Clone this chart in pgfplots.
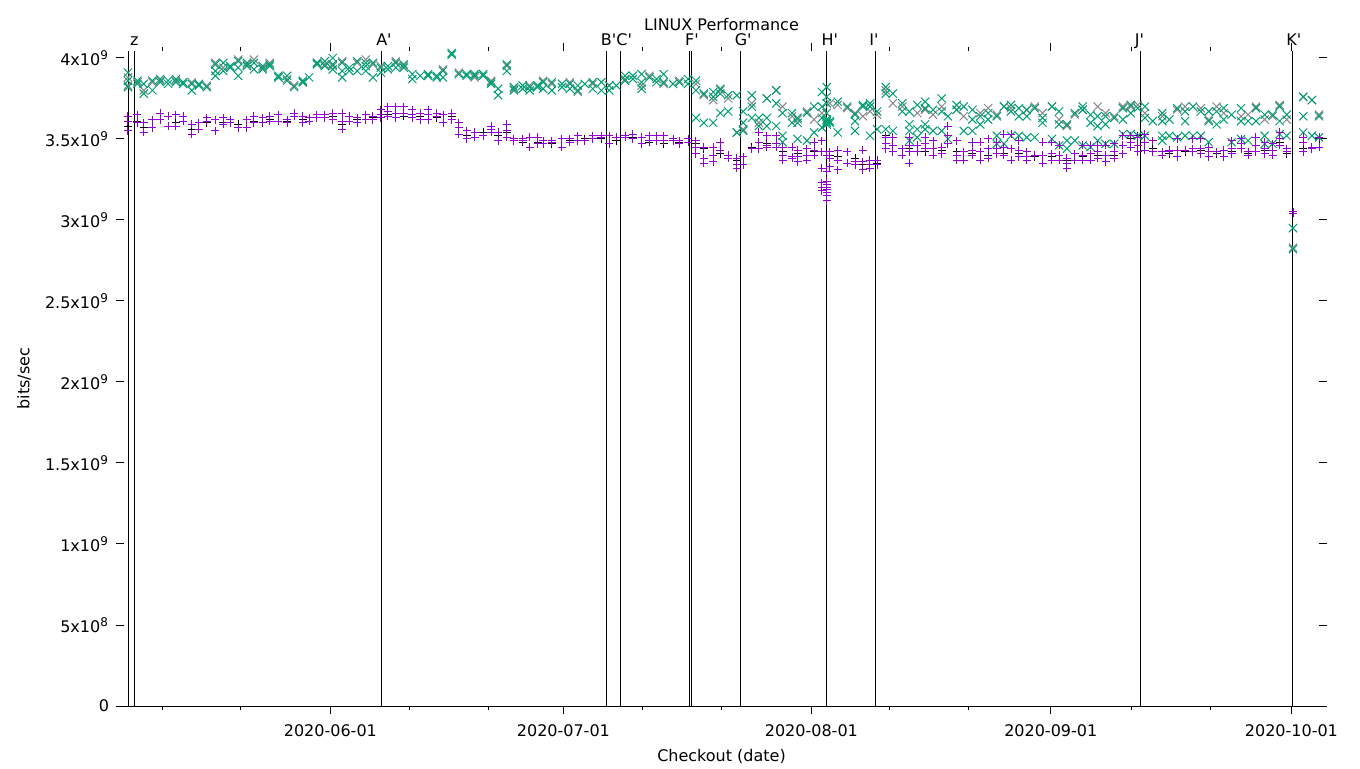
\documentclass[border=0pt]{standalone}
\usepackage{fontspec}
\setmainfont{DejaVu Sans}
\usepackage{pgfplots}
\pgfplotsset{compat=1.18}
\definecolor{gpviolet}{HTML}{9400D3}
\definecolor{gpgreen}{HTML}{009E73}
\definecolor{gpgray}{HTML}{888888}
\newcommand{\lbl}{\fontsize{8}{9.6}\selectfont}
\newcommand{\p}{\textquotesingle}

\begin{document}
\begin{tikzpicture}
\begin{axis}[
    name=ax, scale only axis,
    width=597.5pt, height=327.5pt,
    xmin=-26.2, xmax=125.5, ymin=0, ymax=4.043,
    clip=false,
    axis line style={draw=none},
    tick align=outside, major tick length=4pt, minor tick length=2pt,
    every tick/.style={black, line width=0.5pt},
    xtick={0,29.58,61.06,91.45,122},
    xticklabels={2020-06-01,2020-07-01,2020-08-01,2020-09-01,2020-10-01},
    minor xtick={-21.25,-11.35,9.98,20.06,39.56,49.71,70.98,80.99,101.64,111.67},
    ytick={0,0.5,1,1.5,2,2.5,3,3.5,4},
    yticklabels={0,5x10\textsuperscript{8},1x10\textsuperscript{9},1.5x10\textsuperscript{9},2x10\textsuperscript{9},2.5x10\textsuperscript{9},3x10\textsuperscript{9},3.5x10\textsuperscript{9},4x10\textsuperscript{9}},
    tick label style={font=\lbl},
    xticklabel style={anchor=base, yshift=-11pt},
    yticklabel style={anchor=east},
    title={LINUX Performance},
    title style={font=\lbl, at={(axis description cs:0.5,1)}, anchor=base, yshift=4pt},
    xlabel={Checkout (date)},
    xlabel style={font=\lbl, at={(axis description cs:0.5,0)}, anchor=base, yshift=-27.5pt},
    ylabel={bits/sec},
    ylabel style={font=\lbl, at={(axis description cs:-0.0837,0.5)}, anchor=center},
]
\draw[line width=0.5pt] (rel axis cs:0,0) -- (rel axis cs:1,0);

% gray x series
\addplot[only marks, mark=x, mark size=2.9pt, color=gpgray, mark options={line width=0.5pt}] coordinates {
(-25.7,3.88) (-25.7,3.83) (-24.5,3.85) (-23.7,3.80) (-22.6,3.85) (-21.6,3.86) (-19.6,3.86) (-17.6,3.85) (-15.7,3.83)
(-14.6,3.97) (-13.6,3.94) (-11.7,3.99) (-10.6,3.96) (-9.7,3.99) (-8.6,3.94) (-7.7,3.97) (-6.6,3.88) (-5.5,3.87)
(-4.6,3.83) (-3.5,3.85) (-1.7,3.97) (-0.7,3.96) (0.3,3.95) (1.5,3.98) (3.4,3.97) (4.5,3.99) (5.4,3.96) (6.4,3.95)
(8.3,3.98) (9.3,3.95) (12.4,3.89) (14.3,3.93) (16.3,3.91) (18.3,3.88) (20.4,3.86) (22.4,3.95) (23.3,3.81) (25.3,3.83)
(27.0,3.86) (28.1,3.84) (30.4,3.85) (31.4,3.79) (33.3,3.84) (35.4,3.83) (37.4,3.87) (39.5,3.83) (40.5,3.89) (42.3,3.84)
(44.3,3.86) (46.4,3.84) (47.4,3.77) (48.6,3.74) (49.5,3.80) (50.5,3.75) (51.6,3.54) (52.4,3.56) (53.5,3.72) (54.4,3.60)
(55.4,3.75) (56.6,3.80) (57.4,3.70) (58.6,3.64) (59.3,3.62) (60.5,3.67) (61.4,3.62) (62.4,3.66) (63.4,3.72) (64.4,3.71)
(65.6,3.69) (66.6,3.66) (67.6,3.64) (68.5,3.67) (69.4,3.65) (70.5,3.80) (71.4,3.72) (72.6,3.70) (74.5,3.66) (75.5,3.68)
(76.5,3.65) (77.6,3.70) (79.5,3.68) (80.4,3.64) (82.5,3.66) (83.5,3.69) (84.6,3.65) (85.5,3.70) (86.4,3.69) (88.4,3.68)
(89.4,3.70) (90.4,3.66) (91.6,3.70) (92.5,3.62) (93.5,3.58) (94.5,3.65) (95.5,3.68) (97.4,3.70) (98.4,3.66) (99.5,3.64)
(100.6,3.70) (101.6,3.70) (102.5,3.71) (103.4,3.66) (105.6,3.64) (107.5,3.68) (108.5,3.70) (110.5,3.69) (111.5,3.62)
(112.5,3.70) (113.4,3.66) (115.6,3.64) (116.5,3.65) (117.5,3.70) (118.6,3.62) (119.6,3.64) (120.5,3.71) (121.4,3.62)
(122.2,2.83) (123.5,3.76) (124.6,3.74) (125.5,3.65)
};

% black + series
\addplot[only marks, mark=+, mark size=2pt, color=black, mark options={line width=0.5pt}] coordinates {
(-25.7,3.58) (-24.5,3.61) (-23.7,3.57) (-21.6,3.62) (-19.6,3.60) (-17.6,3.56) (-15.7,3.60) (-13.6,3.60) (-11.7,3.59)
(-9.7,3.61) (-7.7,3.62) (-5.5,3.61) (-3.5,3.62) (-1.7,3.63) (0.3,3.64) (1.5,3.59) (3.4,3.62) (5.4,3.63) (7.3,3.65)
(9.3,3.64) (11.4,3.64) (13.5,3.63) (15.4,3.64) (17.3,3.52) (19.4,3.54) (21.3,3.52) (22.4,3.54) (24.4,3.48) (26.3,3.48)
(28.1,3.47) (30.4,3.49) (32.3,3.50) (34.4,3.50) (36.3,3.49) (38.4,3.51) (40.5,3.48) (42.3,3.47) (44.3,3.48) (46.4,3.47)
(47.4,3.44) (49.5,3.41) (51.6,3.37) (53.5,3.45) (55.4,3.47) (57.4,3.42) (59.3,3.41) (61.4,3.42) (63.4,3.40) (64.4,3.39)
(66.6,3.38) (67.6,3.34) (69.4,3.35) (70.5,3.52) (71.4,3.42) (73.5,3.44) (75.5,3.42) (77.6,3.43) (79.5,3.42) (81.5,3.41)
(83.5,3.40) (85.5,3.41) (87.4,3.41) (89.4,3.39) (91.6,3.39) (93.5,3.37) (95.5,3.39) (97.4,3.40) (99.5,3.40) (101.6,3.50)
(102.5,3.52) (104.4,3.44) (106.5,3.41) (108.5,3.42) (110.5,3.43) (112.5,3.41) (114.4,3.42) (116.5,3.41) (118.6,3.43)
(120.5,3.48) (121.4,3.41) (123.5,3.44) (125.5,3.50)
};

% green x series
\addplot[only marks, mark=x, mark size=2.9pt, color=gpgreen, mark options={line width=0.5pt}] coordinates {
(-25.7,3.91) (-25.7,3.86) (-25.7,3.82) (-24.5,3.86) (-24.5,3.84) (-23.7,3.84) (-23.7,3.78) (-22.6,3.86) (-22.6,3.80)
(-21.6,3.87) (-21.6,3.85) (-20.6,3.86) (-20.6,3.84) (-19.6,3.87) (-19.6,3.85) (-18.7,3.85) (-18.7,3.84) (-17.6,3.84)
(-17.6,3.80) (-16.7,3.83) (-16.7,3.84) (-15.7,3.82) (-14.6,3.96) (-14.6,3.92) (-14.6,3.89) (-13.6,3.97) (-13.6,3.92)
(-12.7,3.94) (-12.7,3.95) (-11.7,3.98) (-11.7,3.94) (-11.7,3.89) (-10.6,3.95) (-10.6,3.97) (-9.7,3.97) (-9.7,3.93)
(-8.6,3.93) (-8.6,3.95) (-7.7,3.96) (-7.7,3.95) (-6.6,3.89) (-6.6,3.88) (-5.5,3.89) (-5.5,3.86) (-4.6,3.82)
(-3.5,3.86) (-3.5,3.85) (-2.7,3.88) (-1.7,3.96) (-1.7,3.97) (-0.7,3.95) (-0.7,3.98)
(0.3,4.00) (0.3,3.96) (0.3,3.93) (1.5,3.97) (1.5,3.92) (1.5,3.88) (2.4,3.92) (2.4,3.94) (3.4,3.98) (3.4,3.92)
(4.5,3.97) (4.5,3.92) (4.5,3.95) (5.4,3.97) (5.4,3.88) (6.4,3.94) (6.4,3.91) (7.3,3.95) (7.3,3.93) (8.3,3.97) (8.3,3.94)
(9.3,3.96) (9.3,3.94) (10.4,3.90) (10.4,3.87) (11.4,3.89) (12.4,3.90) (12.4,3.89) (13.5,3.89) (13.5,3.88) (14.3,3.92)
(14.3,3.88) (15.4,4.02) (15.4,4.03) (16.3,3.90) (17.3,3.89) (17.3,3.90) (18.3,3.89) (18.3,3.90) (19.4,3.90) (19.4,3.89)
(20.4,3.85) (20.4,3.84) (21.3,3.81) (21.3,3.77) (22.4,3.96) (22.4,3.92) (23.3,3.80) (23.3,3.82) (24.4,3.83) (24.4,3.81)
(25.3,3.82) (25.3,3.80) (26.3,3.83) (26.3,3.82) (27.0,3.85) (27.0,3.81) (28.1,3.85) (28.1,3.80) (29.4,3.84) (29.4,3.82)
(30.4,3.84) (30.4,3.81) (31.4,3.83) (31.4,3.80) (32.3,3.84) (33.3,3.85) (33.3,3.81) (34.4,3.85) (34.4,3.80) (35.4,3.83)
(35.4,3.80) (36.3,3.83) (37.4,3.89) (37.4,3.86) (38.4,3.89) (38.4,3.87) (39.5,3.90) (39.5,3.85) (39.5,3.81) (40.5,3.88)
(41.4,3.85) (41.4,3.87) (42.3,3.90) (42.3,3.85) (43.5,3.84) (44.3,3.85) (45.4,3.87) (45.4,3.84) (46.4,3.86) (46.4,3.80)
(46.4,3.63) (47.4,3.78) (47.4,3.60) (48.6,3.79) (48.6,3.76) (48.6,3.60) (49.5,3.81) (49.5,3.78) (49.5,3.66) (50.5,3.77)
(50.5,3.67) (51.6,3.77) (51.6,3.54) (52.4,3.67) (52.4,3.60) (52.4,3.55) (53.5,3.77) (53.5,3.70) (53.5,3.63) (54.4,3.63)
(54.4,3.58) (55.4,3.75) (55.4,3.63) (55.4,3.58) (56.6,3.80) (56.6,3.72) (56.6,3.58) (57.4,3.66) (57.4,3.52) (57.4,3.48)
(58.6,3.66) (58.6,3.60) (59.3,3.63) (59.3,3.60) (59.3,3.50) (60.5,3.66) (60.5,3.49) (61.4,3.70) (61.4,3.54)
(62.4,3.79) (62.4,3.70) (62.4,3.63) (62.4,3.57) (63.0,3.82) (63.0,3.76) (63.0,3.72) (63.0,3.66) (63.0,3.62) (63.0,3.60)
(63.0,3.59) (63.0,3.61) (63.4,3.61) (63.4,3.60) (64.4,3.73) (64.4,3.54) (65.6,3.70) (66.6,3.65) (66.6,3.61) (66.6,3.55)
(67.6,3.71) (67.6,3.70) (68.5,3.72) (68.5,3.70) (68.5,3.52) (69.4,3.67) (69.4,3.56) (70.5,3.82) (70.5,3.78) (70.5,3.56)
(71.4,3.78) (71.4,3.55) (72.6,3.72) (72.6,3.67) (73.5,3.67) (73.5,3.59) (73.5,3.55) (73.5,3.49) (74.5,3.71) (74.5,3.56)
(74.5,3.51) (75.5,3.73) (75.5,3.69) (75.5,3.59) (75.5,3.56) (76.5,3.68) (76.5,3.55) (77.6,3.75) (77.6,3.67) (77.6,3.55)
(78.4,3.64) (78.4,3.50) (79.5,3.71) (79.5,3.68) (80.4,3.70) (80.4,3.55) (81.5,3.68) (81.5,3.62) (81.5,3.55) (82.5,3.64)
(82.5,3.59) (83.5,3.66) (83.5,3.62) (84.6,3.64) (84.6,3.52) (84.6,3.47) (85.5,3.70) (85.5,3.47) (86.4,3.71) (86.4,3.67)
(86.4,3.52) (87.4,3.69) (87.4,3.64) (87.4,3.52) (88.4,3.68) (88.4,3.64) (88.4,3.51) (89.4,3.69) (89.4,3.51) (90.4,3.63)
(90.4,3.60) (91.6,3.70) (91.6,3.50) (92.5,3.67) (92.5,3.59) (92.5,3.46) (93.5,3.59) (93.5,3.49) (93.5,3.44) (94.5,3.66)
(94.5,3.49) (95.5,3.70) (95.5,3.68) (95.5,3.46) (96.5,3.65) (96.5,3.60) (96.5,3.45) (97.4,3.64) (97.4,3.58) (97.4,3.49)
(98.4,3.64) (98.4,3.59) (98.4,3.47) (99.5,3.63) (99.5,3.47) (100.6,3.69) (100.6,3.62) (100.6,3.53) (101.6,3.71)
(101.6,3.66) (101.6,3.53) (102.5,3.69) (102.5,3.52) (103.4,3.70) (103.4,3.63) (103.4,3.52) (104.4,3.61) (105.6,3.66)
(105.6,3.61) (105.6,3.52) (105.6,3.49) (106.5,3.62) (106.5,3.52) (107.5,3.69) (107.5,3.51) (108.5,3.67) (108.5,3.61)
(108.5,3.52) (109.5,3.70) (109.5,3.52) (110.5,3.67) (110.5,3.52) (111.5,3.67) (111.5,3.61) (111.5,3.48) (112.5,3.67)
(112.5,3.59) (113.4,3.69) (113.4,3.62) (114.4,3.65) (114.4,3.48) (115.6,3.69) (115.6,3.61) (115.6,3.50) (116.5,3.61)
(116.5,3.49) (117.5,3.69) (117.5,3.61) (118.6,3.65) (118.6,3.52) (118.6,3.47) (119.6,3.65) (119.6,3.47) (120.5,3.70)
(120.5,3.61) (120.5,3.53) (121.4,3.65) (121.4,3.52) (122.2,2.95) (122.2,2.82) (123.5,3.76) (123.5,3.64) (123.5,3.54)
(124.6,3.74) (124.6,3.52) (125.5,3.64) (125.5,3.51)
};

% violet + series
\addplot[only marks, mark=+, mark size=2pt, color=gpviolet, mark options={line width=0.5pt}] coordinates {
(-25.7,3.64) (-25.7,3.61) (-25.7,3.55) (-24.5,3.65) (-24.5,3.60) (-23.7,3.60) (-23.7,3.54) (-22.6,3.62) (-22.6,3.57)
(-21.6,3.66) (-21.6,3.62) (-20.6,3.64) (-20.6,3.58) (-19.6,3.65) (-19.6,3.58) (-18.7,3.64) (-18.7,3.61) (-17.6,3.59)
(-17.6,3.53) (-16.7,3.60) (-16.7,3.56) (-15.7,3.63) (-15.7,3.61) (-14.6,3.62) (-14.6,3.55) (-13.6,3.63) (-13.6,3.59)
(-12.7,3.62) (-12.7,3.60) (-11.7,3.57) (-10.6,3.62) (-10.6,3.57) (-9.7,3.64) (-9.7,3.60) (-8.6,3.63) (-8.6,3.60)
(-7.7,3.64) (-7.7,3.61) (-6.6,3.65) (-6.6,3.61) (-5.5,3.62) (-5.5,3.60) (-4.6,3.66) (-4.6,3.64) (-3.5,3.64) (-3.5,3.60)
(-2.7,3.63) (-2.7,3.61) (-1.7,3.65) (-1.7,3.63) (-0.7,3.65) (-0.7,3.63)
(0.3,3.66) (0.3,3.62) (1.5,3.66) (1.5,3.61) (1.5,3.56) (2.4,3.64) (2.4,3.61) (3.4,3.63) (3.4,3.60) (4.5,3.65) (4.5,3.62)
(5.4,3.64) (5.4,3.62) (6.4,3.68) (6.4,3.65) (6.4,3.63) (7.3,3.70) (7.3,3.67) (7.3,3.64) (8.3,3.70) (8.3,3.66) (8.3,3.63)
(9.3,3.70) (9.3,3.66) (10.4,3.68) (10.4,3.65) (10.4,3.63) (11.4,3.66) (11.4,3.62) (12.4,3.68) (12.4,3.65) (12.4,3.62)
(13.5,3.66) (13.5,3.64) (14.3,3.65) (14.3,3.60) (15.4,3.66) (15.4,3.62) (16.3,3.60) (16.3,3.57) (16.3,3.53) (17.3,3.55)
(17.3,3.50) (18.3,3.54) (18.3,3.51) (19.4,3.52) (20.4,3.58) (20.4,3.56) (20.4,3.54) (21.3,3.54) (21.3,3.49) (22.4,3.59)
(22.4,3.55) (22.4,3.51) (23.3,3.50) (23.3,3.49) (24.4,3.50) (24.4,3.49) (25.3,3.51) (25.3,3.45) (26.3,3.51) (26.3,3.47)
(27.0,3.49) (27.0,3.47) (28.1,3.49) (28.1,3.48) (29.4,3.50) (29.4,3.45) (30.4,3.50) (30.4,3.48) (31.4,3.52) (31.4,3.49)
(32.3,3.49) (33.3,3.52) (33.3,3.50) (34.4,3.52) (34.4,3.51) (35.4,3.52) (35.4,3.47) (36.3,3.51) (37.4,3.52) (37.4,3.51)
(38.4,3.53) (38.4,3.50) (39.5,3.51) (39.5,3.47) (40.5,3.52) (40.5,3.49) (41.4,3.52) (41.4,3.49) (42.3,3.52) (42.3,3.49)
(43.5,3.50) (43.5,3.49) (44.3,3.49) (44.3,3.47) (45.4,3.50) (45.4,3.48) (46.4,3.49) (46.4,3.45) (46.4,3.41) (47.4,3.45)
(47.4,3.38) (47.4,3.35) (48.6,3.45) (48.6,3.40) (48.6,3.36) (49.5,3.48) (49.5,3.43) (50.5,3.40) (50.5,3.38) (51.6,3.38)
(51.6,3.34) (51.6,3.32) (52.4,3.39) (52.4,3.34) (53.5,3.44) (54.4,3.54) (54.4,3.48) (54.4,3.44) (55.4,3.52) (55.4,3.46)
(55.4,3.45) (56.6,3.52) (56.6,3.47) (56.6,3.45) (57.4,3.45) (57.4,3.40) (57.4,3.37) (58.6,3.45) (58.6,3.39) (58.6,3.38)
(59.3,3.43) (59.3,3.39) (59.3,3.36) (60.5,3.44) (60.5,3.40) (60.5,3.37) (61.4,3.48) (61.4,3.43) (61.4,3.40) (62.4,3.49)
(62.4,3.42) (62.4,3.32) (62.4,3.23) (62.4,3.20) (62.4,3.18) (63.0,3.40) (63.0,3.30) (63.0,3.24) (63.0,3.22) (63.0,3.20)
(63.0,3.19) (63.0,3.17) (63.0,3.15) (63.0,3.12) (63.4,3.42) (63.4,3.38) (63.4,3.33) (64.4,3.43) (64.4,3.37) (64.4,3.31)
(65.6,3.42) (65.6,3.35) (66.6,3.36) (66.6,3.34) (67.6,3.43) (67.6,3.36) (67.6,3.31) (68.5,3.37) (68.5,3.34) (68.5,3.32)
(69.4,3.37) (69.4,3.34) (70.5,3.51) (70.5,3.47) (70.5,3.44) (71.4,3.51) (71.4,3.46) (71.4,3.42) (72.6,3.44) (72.6,3.40)
(73.5,3.51) (73.5,3.46) (73.5,3.42) (73.5,3.35) (74.5,3.46) (74.5,3.42) (75.5,3.51) (75.5,3.47) (75.5,3.44) (76.5,3.49)
(76.5,3.44) (76.5,3.40) (77.6,3.45) (77.6,3.41) (78.4,3.58) (78.4,3.52) (78.4,3.47) (79.5,3.49) (79.5,3.40) (79.5,3.37)
(80.4,3.42) (80.4,3.37) (81.5,3.48) (81.5,3.43) (81.5,3.40) (82.5,3.48) (82.5,3.42) (82.5,3.37) (83.5,3.50) (83.5,3.44)
(83.5,3.38) (84.6,3.48) (84.6,3.44) (84.6,3.41) (85.5,3.53) (85.5,3.45) (85.5,3.40) (86.4,3.53) (86.4,3.44) (86.4,3.37)
(87.4,3.49) (87.4,3.43) (87.4,3.39) (88.4,3.42) (88.4,3.39) (88.4,3.37) (89.4,3.40) (90.4,3.48) (90.4,3.40) (90.4,3.35)
(91.6,3.48) (91.6,3.41) (91.6,3.37) (92.5,3.46) (92.5,3.40) (92.5,3.37) (93.5,3.38) (93.5,3.35) (93.5,3.32) (94.5,3.41)
(94.5,3.37) (95.5,3.46) (95.5,3.40) (95.5,3.37) (96.5,3.46) (96.5,3.41) (96.5,3.37) (97.4,3.46) (97.4,3.42) (97.4,3.38)
(98.4,3.46) (98.4,3.40) (98.4,3.36) (99.5,3.47) (99.5,3.42) (99.5,3.38) (100.6,3.52) (100.6,3.46) (100.6,3.41)
(101.6,3.52) (101.6,3.48) (101.6,3.45) (102.5,3.51) (102.5,3.46) (102.5,3.42) (103.4,3.53) (103.4,3.48) (103.4,3.43)
(104.4,3.49) (104.4,3.42) (105.6,3.42) (105.6,3.40) (106.5,3.43) (106.5,3.42) (107.5,3.50) (107.5,3.43) (107.5,3.39)
(108.5,3.43) (109.5,3.50) (109.5,3.44) (109.5,3.42) (110.5,3.50) (110.5,3.44) (110.5,3.41) (111.5,3.45) (111.5,3.42)
(111.5,3.39) (112.5,3.42) (113.4,3.43) (113.4,3.39) (114.4,3.49) (114.4,3.44) (114.4,3.41) (115.6,3.50) (115.6,3.47)
(115.6,3.44) (116.5,3.42) (116.5,3.40) (117.5,3.51) (117.5,3.46) (117.5,3.42) (118.6,3.48) (118.6,3.44) (118.6,3.41)
(119.6,3.47) (119.6,3.43) (119.6,3.40) (120.5,3.54) (120.5,3.50) (120.5,3.46) (121.4,3.44) (121.4,3.42) (122.2,3.05)
(122.2,3.04) (123.5,3.51) (123.5,3.48) (123.5,3.42) (124.6,3.45) (124.6,3.44) (125.5,3.51) (125.5,3.45)
};

% release markers
\addplot[black, line width=0.5pt, forget plot] coordinates {(-25.69,0) (-25.69,4.043)};
\addplot[black, line width=0.5pt, forget plot] coordinates {(-24.93,0) (-24.93,4.043)};
\addplot[black, line width=0.5pt, forget plot] coordinates {(6.55,0) (6.55,4.043)};
\addplot[black, line width=0.5pt, forget plot] coordinates {(34.99,0) (34.99,4.043)};
\addplot[black, line width=0.5pt, forget plot] coordinates {(36.77,0) (36.77,4.043)};
\addplot[black, line width=0.5pt, forget plot] coordinates {(45.65,0) (45.65,4.043)};
\addplot[black, line width=0.5pt, forget plot] coordinates {(45.78,0) (45.78,4.043)};
\addplot[black, line width=0.5pt, forget plot] coordinates {(52.0,0) (52.0,4.043)};
\addplot[black, line width=0.5pt, forget plot] coordinates {(63.04,0) (63.04,4.043)};
\addplot[black, line width=0.5pt, forget plot] coordinates {(69.14,0) (69.14,4.043)};
\addplot[black, line width=0.5pt, forget plot] coordinates {(102.8,0) (102.8,4.043)};
\addplot[black, line width=0.5pt, forget plot] coordinates {(122.1,0) (122.1,4.043)};

\begin{scope}[every node/.style={font=\lbl, anchor=base, inner sep=0pt, yshift=2.5pt}]
\node at (axis cs:-24.9,4.043) {z};
\node at (axis cs:6.8,4.043) {A\p};
\node at (axis cs:35.3,4.043) {B\p};
\node at (axis cs:37.3,4.043) {C\p};
\node at (axis cs:45.9,4.043) {F\p};
\node at (axis cs:52.4,4.043) {G\p};
\node at (axis cs:63.4,4.043) {H\p};
\node at (axis cs:69.0,4.043) {I\p};
\node at (axis cs:102.7,4.043) {J\p};
\node at (axis cs:122.3,4.043) {K\p};
\end{scope}
\end{axis}
\pgfresetboundingbox
\path ([shift={(-62pt,-31pt)}]ax.south west) rectangle ([shift={(20.5pt,25.5pt)}]ax.north east);
\end{tikzpicture}
\end{document}
